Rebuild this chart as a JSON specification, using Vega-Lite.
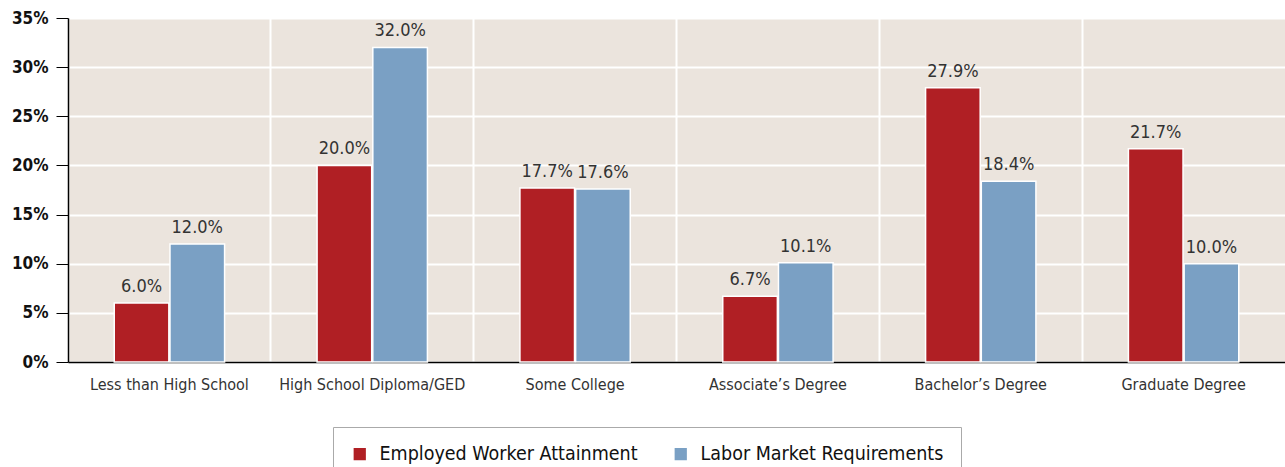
{
  "$schema": "https://vega.github.io/schema/vega-lite/v6.json",
  "width": 1217,
  "height": 344,
  "autosize": "none",
  "padding": {"left": 68, "top": 18, "right": 0, "bottom": 105},
  "background": "white",
  "data": {"values": [
    {"cat": "Less than High School", "series": "Employed Worker Attainment", "v": 0.060},
    {"cat": "Less than High School", "series": "Labor Market Requirements", "v": 0.120},
    {"cat": "High School Diploma/GED", "series": "Employed Worker Attainment", "v": 0.200},
    {"cat": "High School Diploma/GED", "series": "Labor Market Requirements", "v": 0.320},
    {"cat": "Some College", "series": "Employed Worker Attainment", "v": 0.177},
    {"cat": "Some College", "series": "Labor Market Requirements", "v": 0.176},
    {"cat": "Associate’s Degree", "series": "Employed Worker Attainment", "v": 0.067},
    {"cat": "Associate’s Degree", "series": "Labor Market Requirements", "v": 0.101},
    {"cat": "Bachelor’s Degree", "series": "Employed Worker Attainment", "v": 0.279},
    {"cat": "Bachelor’s Degree", "series": "Labor Market Requirements", "v": 0.184},
    {"cat": "Graduate Degree", "series": "Employed Worker Attainment", "v": 0.217},
    {"cat": "Graduate Degree", "series": "Labor Market Requirements", "v": 0.100}
  ]},
  "config": {
    "view": {"fill": "#ebe4dd", "stroke": null},
    "font": "Liberation Sans Narrow, DejaVu Sans Condensed, sans-serif"
  },
  "encoding": {
    "x": {
      "field": "cat", "type": "nominal", "sort": null, "title": null,
      "scale": {"paddingInner": 0, "paddingOuter": 0},
      "axis": {
        "labelAngle": 0, "labelFontSize": 16, "labelColor": "#333333", "labelPadding": 14,
        "labelLimit": 0,
        "ticks": false, "domainColor": "#000000", "domainWidth": 1.5,
        "grid": true, "gridColor": "#ffffff", "gridWidth": 2, "bandPosition": 0,
        "labelFont": "Liberation Sans Narrow, DejaVu Sans Condensed, sans-serif"
      }
    },
    "xOffset": {
      "field": "series", "type": "nominal", "sort": null,
      "scale": {"paddingOuter": 0.83, "paddingInner": 0.02}
    },
    "y": {
      "field": "v", "type": "quantitative", "title": null,
      "scale": {"domain": [0, 0.35], "nice": false},
      "axis": {
        "values": [0, 0.05, 0.1, 0.15, 0.2, 0.25, 0.3, 0.35], "format": ".0%",
        "labelFontSize": 17, "labelFontWeight": "bold", "labelColor": "#111111",
        "tickSize": 12, "tickColor": "#000000", "domainColor": "#000000", "domainWidth": 1.5,
        "labelPadding": 8,
        "grid": true, "gridColor": "#ffffff", "gridWidth": 2,
        "labelFont": "Liberation Sans Narrow, DejaVu Sans Condensed, sans-serif"
      }
    }
  },
  "layer": [
    {
      "mark": {"type": "bar", "stroke": "#ffffff", "strokeWidth": 1.5},
      "encoding": {
        "color": {
          "field": "series", "type": "nominal", "sort": null,
          "scale": {"range": ["#b01f24", "#7aa0c4"]},
          "legend": {
            "title": null, "orient": "none", "direction": "horizontal",
            "legendX": 265, "legendY": 409,
            "symbolType": "square", "symbolSize": 150, "symbolStrokeWidth": 0,
            "labelFontSize": 19.5, "labelColor": "#111111", "labelLimit": 0, "labelOffset": 10,
            "labelFont": "Liberation Sans Narrow, DejaVu Sans Condensed, sans-serif",
            "strokeColor": "#aaaaaa", "padding": 17, "columnPadding": 33,
            "fillColor": "#ffffff"
          }
        }
      }
    },
    {
      "mark": {"type": "text", "baseline": "bottom", "dy": -7, "fontSize": 18, "color": "#333333"},
      "encoding": {
        "text": {"field": "v", "type": "quantitative", "format": ".1%"}
      }
    }
  ]
}
